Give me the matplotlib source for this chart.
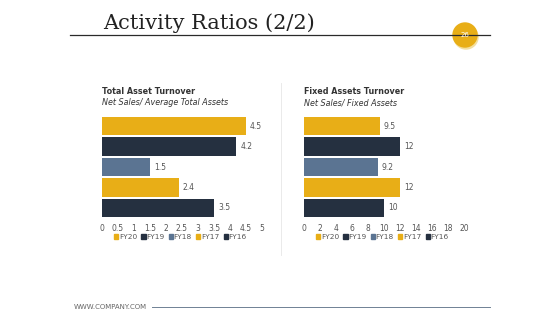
import matplotlib
matplotlib.use('Agg')
import matplotlib.pyplot as plt
from matplotlib.patches import Circle, Patch
from matplotlib.lines import Line2D

# data
years = ['FY20', 'FY19', 'FY18', 'FY17', 'FY16']
tat_values = [4.5, 4.2, 1.5, 2.4, 3.5]
fat_values = [9.5, 12, 9.2, 12, 10]
tat_ticks = [0, 0.5, 1, 1.5, 2, 2.5, 3, 3.5, 4, 4.5, 5]
fat_ticks = [0, 2, 4, 6, 8, 10, 12, 14, 16, 18, 20]

GOLD = '#E8AE17'
NAVY = '#253040'
SLATE = '#5B7492'
colors = [GOLD, NAVY, SLATE, GOLD, NAVY]

W, H = 560, 315
fig = plt.figure(figsize=(W / 100, H / 100), dpi=100)


def box(x0, y0, x1, y1):
    # pixel box (top-left origin) -> figure fraction
    return [x0 / W, 1 - y1 / H, (x1 - x0) / W, (y1 - y0) / H]


def panel(rect, values, ticks, xmax, title, subtitle):
    ax = fig.add_axes(rect)
    pos = list(range(len(values)))
    ax.barh(pos, values, height=0.9, color=colors)
    ax.set_ylim(len(values) - 0.5, -0.5)
    ax.set_xlim(0, xmax)
    ax.set_xticks(ticks)
    ax.set_xticklabels([f'{t:g}' for t in ticks])
    ax.set_yticks([])
    ax.tick_params(axis='x', length=0, pad=4, labelsize=5.5, labelcolor='#555555')
    for s in ax.spines.values():
        s.set_visible(False)
    for p, v in zip(pos, values):
        ax.text(v + xmax * 0.025, p, f'{v:g}', va='center', ha='left',
                fontsize=5.5, color='#555555')
    ax.text(0, 1.2, title, transform=ax.transAxes, fontsize=5.8,
            fontweight='bold', color='#333333', va='bottom')
    ax.text(0, 1.085, subtitle, transform=ax.transAxes, fontsize=5.8,
            style='italic', color='#333333', va='bottom')
    handles = [Patch(color=c, label=y) for c, y in zip(colors, years)]
    ax.legend(handles=handles, ncol=5, loc='upper center',
              bbox_to_anchor=(0.49, -0.16), frameon=False, fontsize=5.3,
              handlelength=0.55, handleheight=0.55, handletextpad=0.1,
              columnspacing=0.6, labelcolor='#555555',
              borderpad=0, borderaxespad=0)
    return ax


panel(box(102, 116, 262, 218), tat_values, tat_ticks, 5,
      'Total Asset Turnover', 'Net Sales/ Average Total Assets')
panel(box(304, 116, 464, 218), fat_values, fat_ticks, 20,
      'Fixed Assets Turnover', 'Net Sales/ Fixed Assets')

# header
fig.text(103 / W, 1 - 29 / H, 'Activity Ratios (2/2)', family='DejaVu Serif',
         fontsize=15, color='#222222', va='baseline')
fig.add_artist(Line2D([70 / W, 490 / W], [1 - 35 / H] * 2, color='#2a2a2a', lw=0.9))
# page badge, drawn in inches so it stays round
fig.add_artist(Circle((4.66, 3.15 - 0.37), 0.12, color='#F3DFA0',
                      transform=fig.dpi_scale_trans))
fig.add_artist(Circle((4.65, 3.15 - 0.35), 0.12, color=GOLD,
                      transform=fig.dpi_scale_trans))
fig.text(465 / W, 1 - 35 / H, '26', color='white', fontsize=5,
         ha='center', va='center')

# separator
fig.add_artist(Line2D([281 / W] * 2, [1 - 83 / H, 1 - 255 / H], color='#e6e6e6', lw=0.6))

# footer
fig.text(74 / W, 1 - 307 / H, 'WWW.COMPANY.COM', fontsize=5, color='#666666',
         va='center')
fig.add_artist(Line2D([152 / W, 490 / W], [1 - 307 / H] * 2, color='#6F8194', lw=0.7))

fig.savefig('out.png', dpi=100)
